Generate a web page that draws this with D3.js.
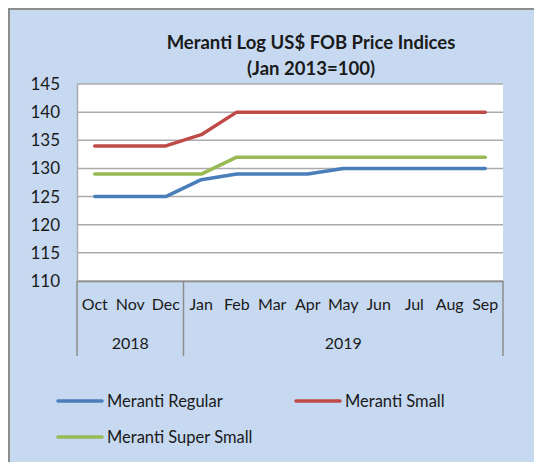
<!DOCTYPE html>
<html>
<head>
<meta charset="utf-8">
<script src="https://cdn.jsdelivr.net/npm/d3@7"></script>
<style>
  body { margin: 0; background: #fff; }
  text { font-family: Lato, "Open Sans", sans-serif; fill: #1a1a1a; }
</style>
</head>
<body>
<div id="chart"></div>
<script>
const months = ["Oct", "Nov", "Dec", "Jan", "Feb", "Mar", "Apr", "May", "Jun", "Jul", "Aug", "Sep"];
const years = [
  { label: "2018", from: 0, to: 3 },
  { label: "2019", from: 3, to: 12 }
];
const yTicks = [110, 115, 120, 125, 130, 135, 140, 145];

const regular = [125, 125, 125, 128, 129, 129, 129, 130, 130, 130, 130, 130];
const small = [134, 134, 134, 136, 140, 140, 140, 140, 140, 140, 140, 140];
const superSmall = [129, 129, 129, 129, 132, 132, 132, 132, 132, 132, 132, 132];

const series = [
  { name: "Meranti Regular", values: regular, color: "#4a7ebb" },
  { name: "Meranti Small", values: small, color: "#be4b48" },
  { name: "Meranti Super Small", values: superSmall, color: "#98b954" }
];

const width = 534, height = 462;
const plot = { left: 77, top: 84, right: 503, bottom: 281 };

const svg = d3.select("#chart").append("svg")
  .attr("width", width)
  .attr("height", height);

// chart background + border (cropped on right/bottom)
svg.append("rect")
  .attr("x", 9).attr("y", 9)
  .attr("width", width).attr("height", height)
  .attr("fill", "#c6d9f1")
  .attr("stroke", "#8c8c8c")
  .attr("stroke-width", 2);

// title
svg.append("text")
  .attr("x", 311).attr("y", 49)
  .attr("text-anchor", "middle")
  .attr("font-size", 18.5).attr("font-weight", "bold")
  .text("Meranti Log US$ FOB Price Indices");
svg.append("text")
  .attr("x", 311).attr("y", 75)
  .attr("text-anchor", "middle")
  .attr("font-size", 18.5).attr("font-weight", "bold")
  .text("(Jan 2013=100)");

const x = d3.scaleBand().domain(months).range([plot.left, plot.right]);
const y = d3.scaleLinear().domain([110, 145]).range([plot.bottom, plot.top]);

svg.append("rect")
  .attr("x", plot.left).attr("y", plot.top)
  .attr("width", plot.right - plot.left)
  .attr("height", plot.bottom - plot.top)
  .attr("fill", "#fff");

// gridlines
svg.append("g")
  .selectAll("line")
  .data(yTicks)
  .join("line")
  .attr("x1", plot.left).attr("x2", plot.right)
  .attr("y1", d => y(d)).attr("y2", d => y(d))
  .attr("stroke", "#ababab")
  .attr("stroke-width", 1.5);

// y axis
const yAxis = svg.append("g")
  .attr("transform", `translate(${plot.left},0)`)
  .call(d3.axisLeft(y).tickValues(yTicks).tickSize(0).tickPadding(17));
yAxis.select(".domain").attr("stroke", "#ababab").attr("stroke-width", 1.5);
yAxis.selectAll("text").attr("font-size", 17).attr("font-family", "Lato, sans-serif").attr("fill", "#1a1a1a");

// x axis (month labels)
const xAxis = svg.append("g")
  .attr("transform", `translate(0,${plot.bottom})`)
  .call(d3.axisBottom(x).tickSize(0).tickPadding(18));
xAxis.select(".domain").attr("stroke", "#8c8c8c").attr("stroke-width", 1.5);
xAxis.selectAll("text").attr("font-size", 16).attr("font-family", "Lato, sans-serif").attr("fill", "#1a1a1a");

// year group dividers
const groupBottom = 356;
const edges = [0, 3, 12].map(i => i < 12 ? x(months[i]) : plot.right);
svg.append("g")
  .selectAll("line")
  .data(edges)
  .join("line")
  .attr("x1", d => d).attr("x2", d => d)
  .attr("y1", plot.bottom).attr("y2", groupBottom)
  .attr("stroke", "#8c8c8c")
  .attr("stroke-width", 1.5);

svg.append("g")
  .selectAll("text")
  .data(years)
  .join("text")
  .attr("x", d => {
    const a = x(months[d.from]);
    const b = d.to < 12 ? x(months[d.to]) : plot.right;
    return (a + b) / 2;
  })
  .attr("y", 349)
  .attr("text-anchor", "middle")
  .attr("font-size", 16)
  .text(d => d.label);

// lines
const line = d3.line()
  .x((d, i) => x(months[i]) + x.bandwidth() / 2)
  .y(d => y(d));

svg.append("g")
  .selectAll("path")
  .data(series)
  .join("path")
  .attr("d", d => line(d.values))
  .attr("fill", "none")
  .attr("stroke", d => d.color)
  .attr("stroke-width", 3.5)
  .attr("stroke-linejoin", "round")
  .attr("stroke-linecap", "round");

// legend
const legendPos = [
  { x: 58, y: 401 },
  { x: 296, y: 401 },
  { x: 58, y: 437 }
];
const legend = svg.append("g")
  .selectAll("g")
  .data(series)
  .join("g")
  .attr("transform", (d, i) => `translate(${legendPos[i].x},${legendPos[i].y})`);
legend.append("line")
  .attr("x1", 0).attr("x2", 44)
  .attr("stroke", d => d.color)
  .attr("stroke-width", 3.5)
  .attr("stroke-linecap", "round");
legend.append("text")
  .attr("x", 49).attr("y", 6)
  .attr("font-size", 16.5)
  .text(d => d.name);
</script>
</body>
</html>
